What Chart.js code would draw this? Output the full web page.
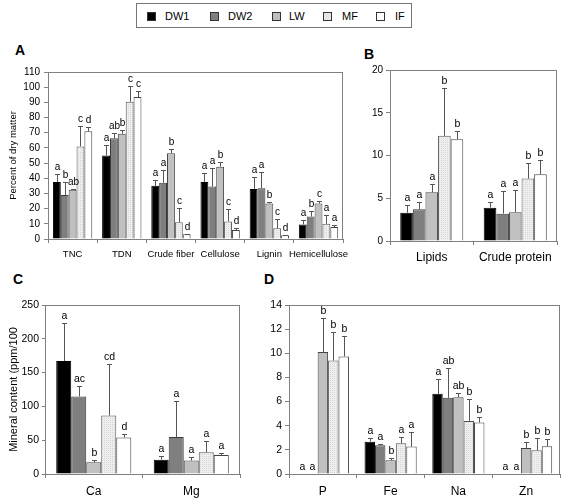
<!DOCTYPE html>
<html><head><meta charset="utf-8">
<script src="https://cdn.jsdelivr.net/npm/chart.js@4.4.1/dist/chart.umd.min.js"></script>
<style>
html,body{margin:0;padding:0;background:#fff}
body{width:563px;height:499px;position:relative;overflow:hidden;font-family:"Liberation Sans",Arial,sans-serif}
canvas{position:absolute}
.plab{position:absolute;font-weight:bold;font-size:14px;line-height:14px}
#legend{position:absolute;left:136px;top:3px;width:276px;height:25px;border:1px solid #777;box-sizing:border-box}
.sw{position:absolute;top:8px;width:9px;height:9px;box-sizing:border-box;border:1px solid #333}
.lt{position:absolute;top:6px;font-size:11px;line-height:13px}
</style></head>
<body>
<div id="legend"></div>
<div class="plab" style="left:15px;top:43px">A</div>
<div class="plab" style="left:364px;top:47px">B</div>
<div class="plab" style="left:13px;top:272px">C</div>
<div class="plab" style="left:264px;top:272px">D</div>
<canvas id="cA" width="355" height="235" style="left:0;top:40px"></canvas>
<canvas id="cB" width="208" height="235" style="left:355px;top:40px"></canvas>
<canvas id="cC" width="250" height="229" style="left:0;top:270px"></canvas>
<canvas id="cD" width="313" height="229" style="left:250px;top:270px"></canvas>
<script>
// ---------- data ----------
const seriesNames = ['DW1','DW2','LW','MF','IF'];

// Panel A: Percent of dry matter
const catsA = ['TNC','TDN','Crude fiber','Cellulose','Lignin','Hemicellulose'];
const dw1A = [37.5, 55, 35, 37.6, 33, 9.6];
const dw2A = [29, 66.4, 37.1, 34.5, 33.4, 14.8];
const lwA  = [32.5, 69.3, 56.5, 47.6, 23.4, 23.4];
const mfA  = [61, 90.4, 11.1, 11.6, 7, 10];
const ifA  = [71, 93.5, 3.1, 5.9, 2.4, 7.9];
const dw1AErr = [42.8, 62, 39, 43.7, 41, 12.4];
const dw2AErr = [37.3, 69.7, 45.6, 46.9, 44.3, 18.6];
const lwAErr  = [33.2, 72.1, 59.2, 50.4, 24.5, 25.1];
const mfAErr  = [74.3, 100.7, 20.5, 19.7, 12.9, 15.5];
const ifAErr  = [73.6, 97.2, 3.5, 7, 2.8, 9];
const dw1ALet = ['a','a','a','a','a','a'];
const dw2ALet = ['b','ab','a','a','a','b'];
const lwALet  = ['ab','b','b','b','b','c'];
const mfALet  = ['c','c','c','c','c','a'];
const ifALet  = ['d','c','d','d','d','a'];
const ticksA = [0,10,20,30,40,50,60,70,80,90,100,110];

// Panel B
const catsB = ['Lipids','Crude protein'];
const dw1B = [3.3, 3.9], dw1BErr = [4.2, 4.6], dw1BLet = ['a','a'];
const dw2B = [3.7, 3.2], dw2BErr = [4.6, 5.85], dw2BLet = ['a','a'];
const lwB  = [5.7, 3.35], lwBErr = [6.7, 6.0], lwBLet = ['a','a'];
const mfB  = [12.3, 7.3], mfBErr = [17.9, 9.1], mfBLet = ['b','b'];
const ifB  = [11.9, 7.8], ifBErr = [12.9, 9.5], ifBLet = ['b','b'];
const ticksB = [0,5,10,15,20];

// Panel C: Mineral content
const catsC = ['Ca','Mg'];
const dw1C = [167, 21.2], dw1CErr = [224, 27.2], dw1CLet = ['a','a'];
const dw2C = [114.6, 54.8], dw2CErr = [130.4, 108.2], dw2CLet = ['ac','a'];
const lwC  = [17.3, 19.8], lwCErr = [21.2, 24.7], lwCLet = ['b','a'];
const mfC  = [86.5, 32.1], mfCErr = [162.5, 48.9], mfCLet = ['cd','a'];
const ifC  = [53.9, 28.2], ifCErr = [59.3, 31.6], ifCLet = ['d','a'];
const ticksC = [0,50,100,150,200,250];

// Panel D
const catsD = ['P','Fe','Na','Zn'];
const dw1D = [0, 2.68, 6.64, 0], dw1DErr = [0, 2.96, 7.91, 0], dw1DLet = ['a','a','a','a'];
const dw2D = [0, 2.38, 6.31, 0], dw2DErr = [0, 2.52, 8.77, 0], dw2DLet = ['a','a','ab','a'];
const lwD  = [10.1, 1.13, 6.36, 2.16], lwDErr = [12.9, 1.3, 6.67, 2.63], lwDLet = ['b','b','ab','b'];
const mfD  = [9.4, 2.55, 4.4, 1.96], mfDErr = [11.8, 3.04, 6.2, 3.02], mfDLet = ['b','a','b','b'];
const ifD  = [9.74, 2.27, 4.26, 2.3], ifDErr = [11.4, 3.51, 4.7, 2.88], ifDLet = ['b','a','b','b'];
const ticksD = [0,2,4,6,8,10,12,14];

// ---------- styles ----------
const FONT = '"Liberation Sans", Arial, sans-serif';
Chart.defaults.font.family = FONT;
Chart.defaults.color = '#000';

function dotPattern(){
  const c = document.createElement('canvas'); c.width = 2; c.height = 2;
  const g = c.getContext('2d');
  g.fillStyle = '#efefef'; g.fillRect(0,0,2,2);
  g.fillStyle = '#d6d6d6'; g.fillRect(0,0,1,1);
  return g.createPattern(c, 'repeat');
}
const fills = ['#000000', '#7f7f7f', '#c0c0c0', dotPattern(), '#ffffff'];
const borders = ['#000000', '#3a3a3a', '#444444', '#555555', '#444444'];
const legendFills = ['#000','#7f7f7f','#c0c0c0','#e6e6e6','#fff'];

// legend (HTML text)
const legendX = [[10,28],[73,91],[135,152],[186,205],[239,258]];
const lg = document.getElementById('legend');
seriesNames.forEach((n,i)=>{
  const s = document.createElement('div'); s.className='sw';
  s.style.left = legendX[i][0]+'px'; s.style.background = legendFills[i];
  lg.appendChild(s);
  const t = document.createElement('div'); t.className='lt'; t.textContent = n;
  t.style.left = legendX[i][1]+'px'; lg.appendChild(t);
});

const errPlugin = {
  id: 'errbars',
  afterDatasetsDraw(chart, args, opts) {
    const ctx = chart.ctx, ys = chart.scales.y;
    ctx.save();
    chart.data.datasets.forEach((ds, i) => {
      const meta = chart.getDatasetMeta(i);
      meta.data.forEach((bar, j) => {
        const v = ds.data[j], e = ds.errHi[j];
        const yTop = Math.round(ys.getPixelForValue(e)) + 0.5;
        const x = Math.round(bar.x) + 0.5;
        if (e > v) {
          ctx.strokeStyle = '#555'; ctx.lineWidth = 1;
          ctx.beginPath();
          ctx.moveTo(x, bar.y); ctx.lineTo(x, yTop);
          ctx.moveTo(x - 2.5, yTop); ctx.lineTo(x + 2.5, yTop);
          ctx.stroke();
        }
        ctx.fillStyle = '#000';
        ctx.font = opts.letterSize + 'px ' + FONT;
        ctx.textAlign = 'center'; ctx.textBaseline = 'bottom';
        ctx.fillText(ds.letters[j], x, yTop - 2);
      });
    });
    ctx.restore();
  }
};
const framePlugin = {
  id: 'frame',
  afterDraw(chart) {
    const a = chart.chartArea, ctx = chart.ctx;
    ctx.save();
    ctx.strokeStyle = '#808080'; ctx.lineWidth = 1;
    ctx.strokeRect(Math.round(a.left) + 0.5, Math.round(a.top) + 0.5,
                   Math.round(a.right - a.left) - 1, Math.round(a.bottom - a.top));
    ctx.restore();
  }
};

function makeChart(id, cats, series, cfg) {
  const datasets = series.map((s, i) => ({
    label: seriesNames[i],
    data: s[0], errHi: s[1], letters: s[2],
    backgroundColor: fills[i], borderColor: borders[i],
    borderWidth: c => (c.raw === 0 ? 0 : 1),
    categoryPercentage: cfg.catPct, barPercentage: 1
  }));
  return new Chart(document.getElementById(id), {
    type: 'bar',
    data: { labels: cats, datasets },
    plugins: [errPlugin, framePlugin],
    options: {
      responsive: false, animation: false,
      layout: { padding: { top: cfg.padTop, right: cfg.padRight, left: 0, bottom: 0 } },
      plugins: { legend: { display: false }, tooltip: { enabled: false },
                 errbars: { letterSize: cfg.letterSize } },
      scales: {
        x: {
          grid: { drawOnChartArea: false, tickLength: 4, color: '#808080', offset: true },
          border: { color: '#808080' },
          ticks: { font: { size: cfg.catSize }, padding: cfg.catPad, maxRotation: 0, autoSkip: false },
          afterFit: s => { s.height = cfg.xHeight; }
        },
        y: {
          min: 0, max: cfg.ticks[cfg.ticks.length - 1],
          afterBuildTicks: s => { s.ticks = cfg.ticks.map(v => ({ value: v })); },
          grid: { drawOnChartArea: false, tickLength: cfg.tickLen, color: '#808080' },
          border: { color: '#808080' },
          ticks: { font: { size: cfg.tickSize }, padding: cfg.tickPad },
          title: cfg.yTitle ? { display: true, text: cfg.yTitle, font: { size: cfg.titleSize },
                                padding: { top: cfg.titlePad, bottom: 0 } } : { display: false },
          afterFit: s => { s.width = cfg.yWidth; }
        }
      }
    }
  });
}

makeChart('cA', catsA, [
  [dw1A, dw1AErr, dw1ALet], [dw2A, dw2AErr, dw2ALet], [lwA, lwAErr, lwALet],
  [mfA, mfAErr, mfALet], [ifA, ifAErr, ifALet]
], { catPct: 0.8, padTop: 32, padRight: 11, xHeight: 36, yWidth: 48, ticks: ticksA,
     tickSize: 10, tickPad: 4, tickLen: 4, catSize: 9.5, catPad: 6, letterSize: 10,
     yTitle: 'Percent of dry matter', titleSize: 9.5, titlePad: 8 });

makeChart('cB', catsB, [
  [dw1B, dw1BErr, dw1BLet], [dw2B, dw2BErr, dw2BLet], [lwB, lwBErr, lwBLet],
  [mfB, mfBErr, mfBLet], [ifB, ifBErr, ifBLet]
], { catPct: 0.755, padTop: 30, padRight: 6, xHeight: 34, yWidth: 35, ticks: ticksB,
     tickSize: 10, tickPad: 3, tickLen: 4, catSize: 12, catPad: 5, letterSize: 10.5 });

makeChart('cC', catsC, [
  [dw1C, dw1CErr, dw1CLet], [dw2C, dw2CErr, dw2CLet], [lwC, lwCErr, lwCLet],
  [mfC, mfCErr, mfCLet], [ifC, ifCErr, ifCLet]
], { catPct: 0.77, padTop: 35, padRight: 10, xHeight: 25, yWidth: 45, ticks: ticksC,
     tickSize: 10.5, tickPad: 3, tickLen: 3, catSize: 12, catPad: 6, letterSize: 10.5,
     yTitle: 'Mineral content (ppm/100', titleSize: 11, titlePad: 7 });

makeChart('cD', catsD, [
  [dw1D, dw1DErr, dw1DLet], [dw2D, dw2DErr, dw2DLet], [lwD, lwDErr, lwDLet],
  [mfD, mfDErr, mfDLet], [ifD, ifDErr, ifDLet]
], { catPct: 0.77, padTop: 35, padRight: 3, xHeight: 25, yWidth: 39, ticks: ticksD,
     tickSize: 10.5, tickPad: 3, tickLen: 4, catSize: 12, catPad: 6, letterSize: 10.5 });
</script>
</body></html>
